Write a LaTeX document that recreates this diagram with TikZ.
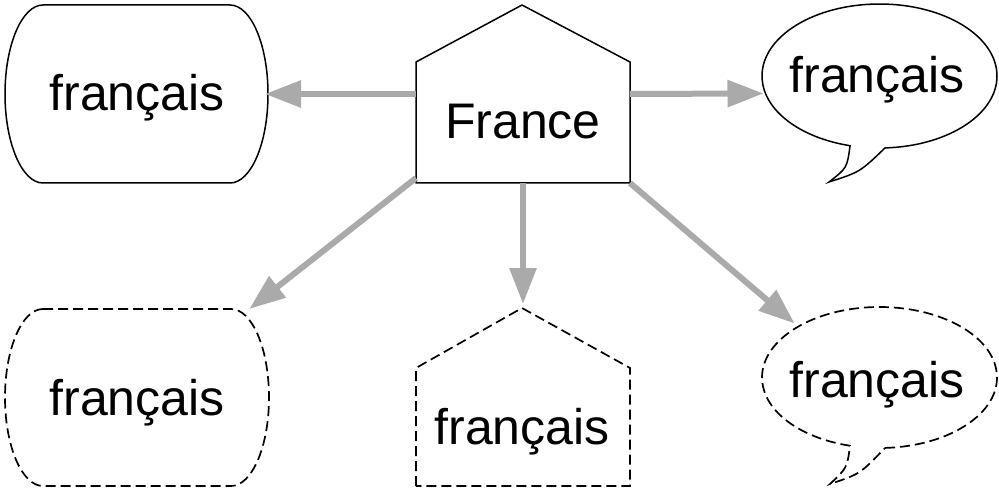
\documentclass[tikz,border=0pt]{standalone}
\usepackage{fontspec}
\setmainfont{Liberation Sans}
\usetikzlibrary{arrows.meta,calc}
\definecolor{linkgray}{RGB}{170,170,170}
\tikzset{
  box/.style={draw=none, inner sep=0pt, outer sep=0pt},
  outline/.style={draw=black, line width=1.5pt, line join=miter},
  dashedoutline/.style={outline, line width=1.7pt, dash pattern=on 10pt off 5pt},
  word/.style={anchor=base, inner sep=0pt, font=\fontsize{50}{60}\selectfont},
  link/.style={draw=linkgray, line width=6pt,
    -{Triangle[length=36pt, width=26pt]}},
}
\begin{document}
\begin{tikzpicture}[x=1pt, y=-1pt]
\useasboundingbox (0,0) rectangle (999,492);

% bounding boxes of the six shapes
\node[box, minimum width=263pt, minimum height=178pt] (tl) at (136.5,94) {};
\node[box, minimum width=214pt, minimum height=178pt] (fr) at (523,94) {};
\node[box, minimum width=235pt, minimum height=178pt] (tr) at (879.5,93) {};
\node[box, minimum width=264pt, minimum height=177pt] (bl) at (137,397.5) {};
\node[box, minimum width=214pt, minimum height=178pt] (bc) at (523,397) {};
\node[box, minimum width=235pt, minimum height=178pt] (br) at (879.5,396) {};

% outlines
\draw[outline] (43,5) -- (230,5)
  arc[start angle=-90, end angle=90, x radius=38, y radius=89]
  -- (43,183)
  arc[start angle=90, end angle=270, x radius=38, y radius=89] -- cycle;

\draw[outline] (416,183) -- (416,62) -- (522,5) -- (630,62) -- (630,183) -- cycle;

\draw[outline] ([shift={(87.3:117.5 and 72)}]879.5,76)
  arc[start angle=87.3, end angle=-255.5, x radius=117.5, y radius=72]
  .. controls (847,168) .. (829,182)
  .. controls (860,172) .. ([shift={(87.3:117.5 and 72)}]879.5,76) -- cycle;

\draw[dashedoutline] (43,309) -- (231,309)
  arc[start angle=-90, end angle=90, x radius=38, y radius=88.5]
  -- (43,486)
  arc[start angle=90, end angle=270, x radius=38, y radius=88.5] -- cycle;

\draw[dashedoutline] (416,486) -- (416,368) -- (522,308) -- (630,368) -- (630,486) -- cycle;

\draw[dashedoutline] ([shift={(87.3:117.5 and 70.5)}]879.5,377.5)
  arc[start angle=87.3, end angle=-255.5, x radius=117.5, y radius=70.5]
  .. controls (847,468) .. (830,484)
  .. controls (860,474) .. ([shift={(87.3:117.5 and 70.5)}]879.5,377.5) -- cycle;

% labels
\node[word] (tl-text) at (137,111) {français};
\node[word] (fr-text) at (523,139) {France};
\node[word] (tr-text) at (877,93) {français};
\node[word] (bl-text) at (137,415) {français};
\node[word] (bc-text) at (522,444) {français};
\node[word] (br-text) at (877,397) {français};

% connectors
\draw[link, shorten >=-3pt] (fr.west) -- (tl.east);
\draw[link] (fr.east) -- ($(fr.east)!0.535!(tr.center)$);
\draw[link, shorten >=4pt] (fr.south) -- (bc.north);
\draw[link] ([yshift=5pt]fr.south west) -- (bl);
\draw[link] (fr.south east) -- ($(fr.south east)!0.66!(br.center)$);
\end{tikzpicture}
\end{document}
